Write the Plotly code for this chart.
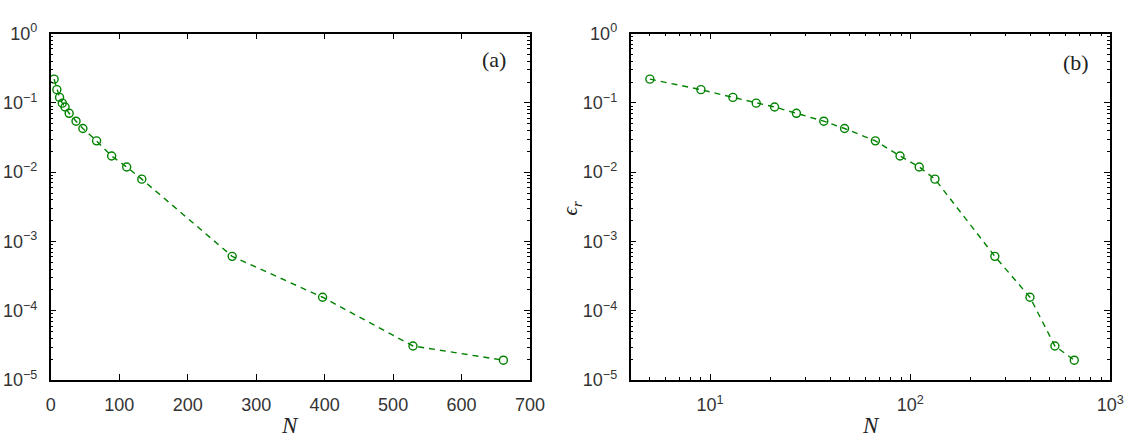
import plotly.graph_objects as go
import numpy as np

N = [5, 9, 13, 17, 21, 27, 37, 47, 67, 89, 111, 133, 265, 397, 529, 661]
err = [0.220, 0.155, 0.120, 0.099, 0.0873, 0.0707, 0.0544, 0.0427, 0.0283,
       0.0171, 0.0119, 0.00794, 0.000611, 0.000157, 3.11e-5, 1.94e-5]

ytick_vals = [1e0, 1e-1, 1e-2, 1e-3, 1e-4, 1e-5]
ytick_text = ["10<sup>0</sup>", "10<sup>−1</sup>", "10<sup>−2</sup>",
              "10<sup>−3</sup>", "10<sup>−4</sup>", "10<sup>−5</sup>"]
xlog_vals = [10, 100, 1000]
xlog_text = ["10<sup>1</sup>", "10<sup>2</sup>", "10<sup>3</sup>"]

GREEN = "rgb(0,130,0)"
W, H = 1137, 436

fig = go.Figure()
for xa, ya in (("x", "y"), ("x2", "y2")):
    fig.add_trace(go.Scatter(
        x=N, y=err, xaxis=xa, yaxis=ya, mode="lines+markers",
        line=dict(color=GREEN, width=1.4, dash="6px,5px"),
        marker=dict(symbol="circle-open", size=8, color=GREEN, line=dict(width=1.4, color=GREEN)),
        showlegend=False, hoverinfo="skip"))

minor_y = [m * 10.0 ** k for k in range(-5, 0) for m in range(2, 10)]
minor_x = [m * 10.0 ** k for k in range(0, 3) for m in range(2, 10) if m * 10.0 ** k >= 4]

tickfont = dict(family="Liberation Sans", size=18, color="#333333")
common = dict(showline=True, linecolor="black", linewidth=1.5, mirror="ticks",
              ticks="inside", ticklen=6, tickcolor="black", tickwidth=1,
              showgrid=False, zeroline=False, tickfont=tickfont)

yax = dict(common, type="log", range=[-5, 0], tickmode="array",
           tickvals=ytick_vals, ticktext=ytick_text, ticklabelstandoff=8,
           minor=dict(ticks="inside", ticklen=3, tickcolor="black", tickmode="array",
                      tickvals=minor_y, showgrid=False),
           domain=[1 - 387.7 / H, 1 - 22.7 / H])

fig.update_layout(
    width=W, height=H, margin=dict(l=0, r=0, t=0, b=0),
    paper_bgcolor="white", plot_bgcolor="white",
    xaxis=dict(common, range=[0, 700], dtick=100, ticklabelstandoff=8,
               domain=[46.5 / W, 534.5 / W], anchor="y"),
    yaxis=dict(yax, anchor="x"),
    xaxis2=dict(common, type="log", range=[np.log10(4), 3], tickmode="array",
                tickvals=xlog_vals, ticktext=xlog_text, ticklabelstandoff=8,
                minor=dict(ticks="inside", ticklen=3, tickcolor="black", tickmode="array",
                           tickvals=minor_x, showgrid=False),
                domain=[636.7 / W, 1125 / W], anchor="y2"),
    yaxis2=dict(yax, anchor="x2"),
)

serif = "Liberation Serif, DejaVu Serif, serif"
for xc in (290, 881):
    fig.add_annotation(text="<i>N</i>", x=xc / W, y=1 - 420 / H, xref="paper", yref="paper",
                       showarrow=False, xanchor="center", yanchor="top",
                       font=dict(family=serif, size=23, color="#222222"))
for txt, xc, yc in (("(a)", 498, 50), ("(b)", 1090, 53)):
    fig.add_annotation(text=txt, x=xc / W, y=1 - yc / H, xref="paper", yref="paper",
                       showarrow=False, xanchor="center", yanchor="middle",
                       font=dict(family=serif, size=22, color="#222222"))
fig.add_annotation(text="<i>ϵ<sub>r</sub></i>", x=576 / W, y=1 - 207 / H, xref="paper", yref="paper",
                   showarrow=False, xanchor="center", yanchor="middle", textangle=-90,
                   font=dict(family=serif, size=21, color="#222222"))

fig.write_html("out.html")
